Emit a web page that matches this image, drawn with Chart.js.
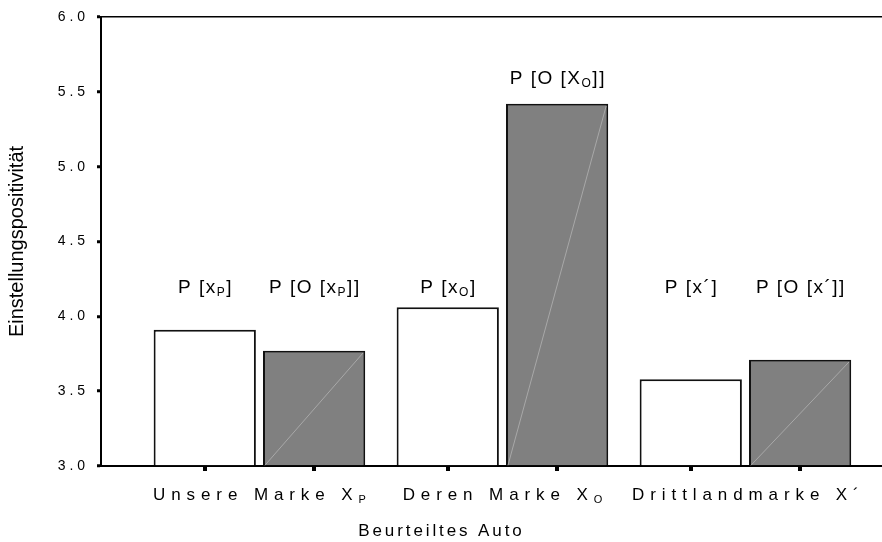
<!DOCTYPE html>
<html>
<head>
<meta charset="utf-8">
<script src="https://cdn.jsdelivr.net/npm/chart.js@4.4.1/dist/chart.umd.min.js"></script>
<style>
  html, body { margin: 0; padding: 0; background: #fff; }
  #wrap { width: 882px; height: 542px; }
</style>
</head>
<body>
<div id="wrap"><canvas id="chart"></canvas></div>
<script>
// --- Daten ---
const groupPositions = [1, 2, 3];
const groupLabels = [
    [{ t: 'Unsere Marke X' }, { t: 'P', sub: true }],
    [{ t: 'Deren Marke X' }, { t: 'O', sub: true }],
    [{ t: 'Drittlandmarke X\u00b4' }]
];
const ownValues = [3.91, 4.06, 3.58];     // P[x]
const otherValues = [3.77, 5.42, 3.71];   // P[O[x]]
const ownLabels = [
    [{ t: 'P [x' }, { t: 'P', sub: true }, { t: ']' }],
    [{ t: 'P [x' }, { t: 'O', sub: true }, { t: ']' }],
    [{ t: 'P [x\u00b4]' }]
];
const otherLabels = [
    [{ t: 'P [O [x' }, { t: 'P', sub: true }, { t: ']]' }],
    [{ t: 'P [O [X' }, { t: 'O', sub: true }, { t: ']]' }],
    [{ t: 'P [O [x\u00b4]]' }]
];
const yTicks = [3.0, 3.5, 4.0, 4.5, 5.0, 5.5, 6.0];
const yMin = 3;
const yMax = 6;
const labelLevel = 4.2;
const xTitle = 'Beurteiltes Auto';
const yTitle = 'Einstellungspositivit\u00e4t';

const FONT = 'Arial, "Liberation Sans", sans-serif';

// Text mit Tiefstellung zeichnen (zentriert auf cx)
function drawRich(ctx, segs, cx, baseline, size, subSize, spacing) {
    ctx.save();
    ctx.letterSpacing = spacing + 'px';
    ctx.textBaseline = 'alphabetic';
    ctx.textAlign = 'left';
    let total = 0;
    segs.forEach(s => {
        ctx.font = (s.sub ? subSize : size) + 'px ' + FONT;
        s.w = ctx.measureText(s.t).width;
        total += s.w;
    });
    let x = cx - (total - spacing) / 2;
    segs.forEach(s => {
        ctx.font = (s.sub ? subSize : size) + 'px ' + FONT;
        ctx.fillText(s.t, x, baseline + (s.sub ? 3 : 0));
        x += s.w;
    });
    ctx.restore();
}

const decorPlugin = {
    id: 'decor',
    afterDatasetsDraw(chart) {
        const ctx = chart.ctx;
        const area = chart.chartArea;
        const yScale = chart.scales.y;
        const levelPx = yScale.getPixelForValue(labelLevel);
        ctx.save();
        chart.data.datasets.forEach((ds, di) => {
            const meta = chart.getDatasetMeta(di);
            meta.data.forEach((el, i) => {
                const half = el.width / 2;
                const base = Math.min(el.base, area.bottom);
                // diagonale Linie in den grauen Balken
                if (di === 1) {
                    ctx.save();
                    ctx.strokeStyle = '#a8a8a8';
                    ctx.lineWidth = 1;
                    ctx.beginPath();
                    ctx.moveTo(el.x - half + 2, base);
                    ctx.lineTo(el.x + half - 2, el.y + 2);
                    ctx.stroke();
                    ctx.restore();
                }
                // Tick unter jedem Balken
                ctx.fillStyle = '#000';
                ctx.fillRect(Math.round(el.x) - 2, area.bottom + 1, 4, 4);
                // Beschriftung: feste Hoehe, ausser der Balken ragt darueber
                const segs = di === 0 ? ownLabels[i] : otherLabels[i];
                const cy = el.y < levelPx ? el.y - 27 : levelPx;
                drawRich(ctx, segs, el.x, cy + 7, 19, 12, 1.5);
            });
        });
        ctx.restore();
    },
    afterDraw(chart) {
        const ctx = chart.ctx;
        const xScale = chart.scales.x;
        ctx.save();
        ctx.fillStyle = '#000';
        groupPositions.forEach((p, i) => {
            drawRich(ctx, groupLabels[i], xScale.getPixelForValue(p), 500, 17, 11, 5.9);
        });
        drawRich(ctx, [{ t: xTitle }], 440, 536, 17, 11, 2.9);
        ctx.restore();
    }
};

const chart = new Chart(document.getElementById('chart'), {
    type: 'bar',
    data: {
        datasets: [
            {
                label: 'P[x]',
                data: ownValues.map((v, i) => ({ x: groupPositions[i], y: v })),
                backgroundColor: '#ffffff',
                borderColor: '#111111',
                borderWidth: 2,
                base: yMin
            },
            {
                label: 'P[O[x]]',
                data: otherValues.map((v, i) => ({ x: groupPositions[i], y: v })),
                backgroundColor: '#808080',
                borderColor: '#111111',
                borderWidth: 2,
                base: yMin
            }
        ]
    },
    options: {
        responsive: true,
        maintainAspectRatio: false,
        animation: false,
        devicePixelRatio: 1,
        categoryPercentage: 0.9,
        barPercentage: 0.935,
        layout: { padding: { top: 17, right: 0, left: 0, bottom: 0 } },
        plugins: {
            legend: { display: false },
            tooltip: { enabled: false }
        },
        scales: {
            x: {
                type: 'linear',
                offset: false,
                min: 0.348,
                max: 3.562,
                afterBuildTicks: s => { s.ticks = groupPositions.map(v => ({ value: v })); },
                afterFit: s => { s.height = 76; },
                grid: { display: false },
                ticks: { display: false },
                border: { display: true, color: '#000', width: 2 }
            },
            y: {
                min: yMin,
                max: yMax,
                afterBuildTicks: s => { s.ticks = yTicks.map(v => ({ value: v })); },
                afterFit: s => {
                    s.width = 101;
                    // Label-Polster nicht auf die Zeichenflaeche aufschlagen
                    s.paddingTop = 8;
                    s.paddingBottom = 8;
                },
                grid: {
                    drawOnChartArea: true,
                    color: c => (c.tick && c.tick.value === yMax ? '#000' : 'rgba(0,0,0,0)'),
                    lineWidth: 1.5,
                    tickColor: '#000',
                    tickWidth: 3,
                    tickLength: 4
                },
                border: { display: true, color: '#000', width: 2 },
                ticks: {
                    color: '#000',
                    padding: 12,
                    font: { family: FONT, size: 14 },
                    callback: v => Number(v).toFixed(1).split('').join(' ')
                },
                title: {
                    display: true,
                    text: yTitle,
                    color: '#000',
                    font: { family: FONT, size: 20 },
                    padding: { top: 5, bottom: 0 }
                }
            }
        }
    },
    plugins: [decorPlugin]
});
</script>
</body>
</html>
